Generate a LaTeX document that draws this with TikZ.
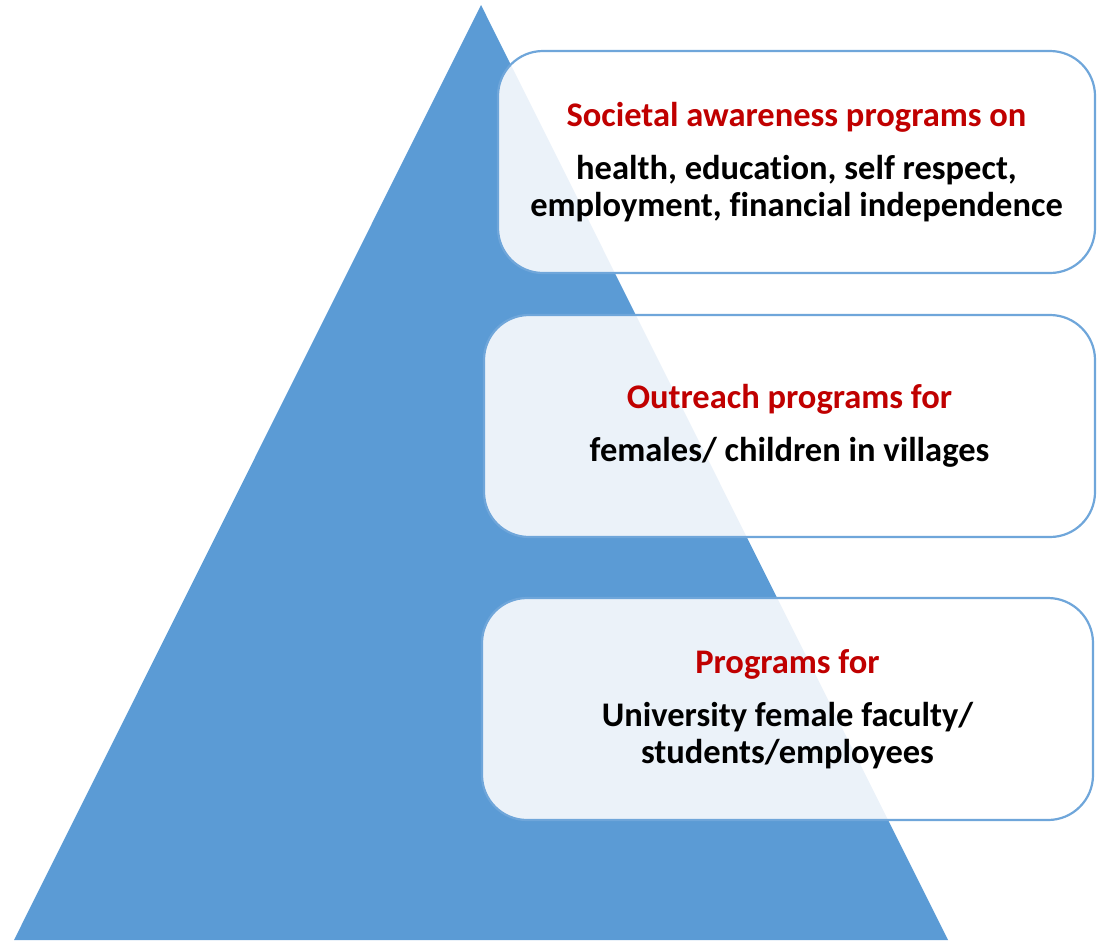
\documentclass[tikz,border=0pt]{standalone}
\usepackage{fontspec}
\setmainfont{Carlito}[Ligatures={NoCommon}]
\definecolor{triblue}{HTML}{5B9BD5}
\definecolor{boxline}{HTML}{6FA6DA}
\definecolor{headred}{HTML}{C00000}
\tikzset{
  tri/.style={fill=triblue},
  pbox/.style={draw=boxline, line width=2.2pt, fill=white, fill opacity=0.88,
    text opacity=1, draw opacity=1, rounded corners=45pt, align=center,
    minimum height=222pt, inner sep=0pt,
    font=\fontsize{34.5}{37}\selectfont\bfseries}
}
\newcommand{\hdtxt}[1]{\textcolor{headred}{#1}}
\begin{document}
\begin{tikzpicture}[x=1pt,y=-1pt]
\useasboundingbox (0,0) rectangle (1097,940);
\coordinate (apex) at (481,5);
\coordinate (bl) at (14,940);
\coordinate (br) at (948,940);
\fill[tri] (apex) -- (br) -- (bl) -- cycle;
\node[pbox, minimum width=597pt] (b1) at (796.5,162)
  {\hdtxt{Societal awareness programs on}\\[16pt]health, education, self respect,\\employment, financial independence};
\node[pbox, minimum width=611pt] (b2) at (789.5,426)
  {\hdtxt{Outreach programs for}\\[16pt]females/ children in villages};
\node[pbox, minimum width=611pt] (b3) at (787.5,709)
  {\hdtxt{Programs for}\\[16pt]University female faculty/\\students/employees};
\end{tikzpicture}
\end{document}
